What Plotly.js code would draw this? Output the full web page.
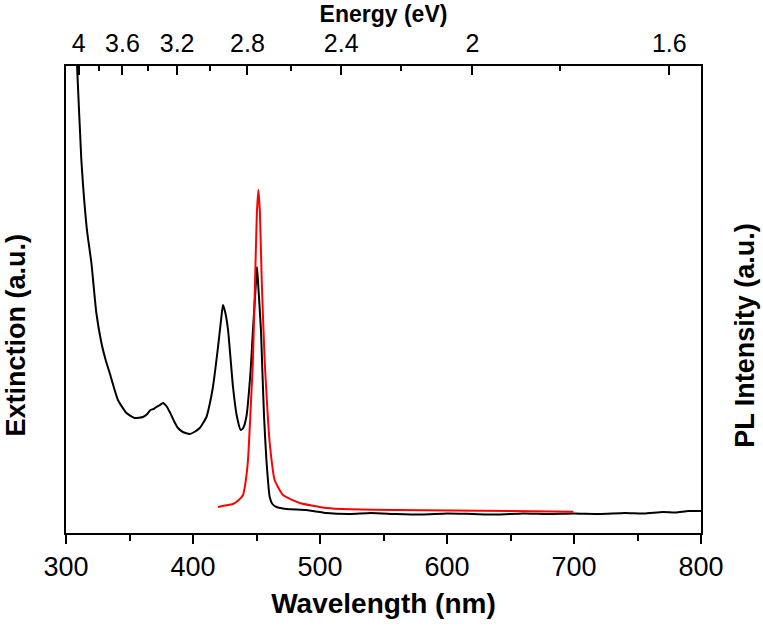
<!DOCTYPE html>
<html><head><meta charset="utf-8">
<script src="https://cdn.plot.ly/plotly-3.0.1.min.js"></script>
<style>body{margin:0;background:#fff}</style></head>
<body><div id="chart" style="width:763px;height:626px"></div>
<script>
// Extinction spectrum (black)
const extWavelength = [306.9, 308.7, 312, 316.5, 320.0, 323.9, 327.9, 331, 334.4, 340.9, 347.6, 354.1, 360.6, 364, 366.5, 369, 371.2, 374, 376.4, 379, 381.7, 385, 388.2, 392, 397.4, 401, 405.3, 410.6, 413, 415.7, 419.7, 422, 423.6, 425.5, 427.6, 431.5, 434.5, 437.6, 439.5, 442.0, 445.4, 447.2, 449.3, 450.4, 451.5, 453.5, 454.6, 456, 457.8, 460.4, 462.5, 465.7, 473.5, 489.3, 505.0, 523.4, 540, 560, 580, 600, 620, 640, 660, 680, 700, 720, 740, 755, 770, 780, 790, 800];
const extinction = [500, 467, 375, 303, 270, 220, 190, 174, 160, 133, 120, 115, 116, 119, 123, 124, 126, 128, 130, 127, 121, 112, 105, 101, 99, 101, 105, 116, 128, 146, 186, 212, 228, 220, 203, 146, 117, 103, 105, 116, 163, 203, 245, 266, 245, 203, 163, 115, 73, 36, 29, 26, 24, 23, 20, 19, 20, 19, 18.5, 19.5, 19, 18.5, 19.5, 19, 19.5, 19, 20, 19.5, 21, 20.5, 22, 22];
// Photoluminescence spectrum (red)
const plWavelength = [419.7, 425, 431.5, 436, 439.4, 441.5, 443.3, 446.0, 447.2, 448.9, 450.3, 451.5, 452.7, 454.1, 456.4, 458.5, 460.4, 464.3, 470.9, 484, 505, 523.4, 560, 602, 650, 699.4];
const plIntensity = [26, 27.5, 29, 33, 38, 52, 73, 140, 173, 253, 320, 343, 320, 253, 173, 125, 90, 53, 38, 30, 25, 23.7, 23, 22.5, 22, 21.3];
// Top axis: photon energy (eV)
const energyTicks = [4, 3.6, 3.2, 2.8, 2.4, 2, 1.6];
const energyTickLabels = ['4', '3.6', '3.2', '2.8', '2.4', '2', '1.6'];
const energyMinorTicks = [3.8, 3.4, 3.0, 2.6, 2.2, 1.8];
const wavelengthTicks = [300, 400, 500, 600, 700, 800];

const toNm = e => 1240 / e;
const FONT = 'Liberation Sans, Arial, sans-serif';

const traces = [
  {x: extWavelength, y: extinction, type: 'scatter', mode: 'lines', name: 'Extinction',
   line: {color: '#000000', width: 2, shape: 'spline', smoothing: 0.5}, xaxis: 'x', yaxis: 'y', showlegend: false},
  {x: plWavelength, y: plIntensity, type: 'scatter', mode: 'lines', name: 'PL',
   line: {color: '#ff0000', width: 2, shape: 'spline', smoothing: 0.5}, xaxis: 'x2', yaxis: 'y2', showlegend: false}
];

const layout = {
  width: 763, height: 626,
  margin: {l: 66, r: 62, t: 66, b: 93},
  paper_bgcolor: '#ffffff', plot_bgcolor: '#ffffff',
  font: {family: FONT, color: '#000000', size: 24},
  xaxis: {
    range: [300, 800], showgrid: false, zeroline: false,
    showline: true, linewidth: 2, linecolor: '#000',
    tickmode: 'array', tickvals: wavelengthTicks, ticktext: wavelengthTicks.map(String),
    ticks: 'outside', ticklen: 9, tickwidth: 2, tickcolor: '#000',
    minor: {tickmode: 'linear', tick0: 350, dtick: 100, ticks: 'outside', ticklen: 6, tickwidth: 2, tickcolor: '#000'},
    tickfont: {size: 27, family: FONT},
    title: {text: 'Wavelength (nm)', font: {size: 28, family: FONT, weight: 'bold'}, standoff: 12}
  },
  xaxis2: {
    overlaying: 'x', side: 'top', anchor: 'y',
    range: [300, 800], showgrid: false, zeroline: false,
    showline: true, linewidth: 2, linecolor: '#000',
    tickmode: 'array', tickvals: energyTicks.map(toNm), ticktext: energyTickLabels,
    ticks: 'inside', ticklen: 9, tickwidth: 2, tickcolor: '#000',
    minor: {tickmode: 'array', tickvals: energyMinorTicks.map(toNm), ticks: 'inside', ticklen: 5, tickwidth: 2, tickcolor: '#000'},
    tickfont: {size: 25, family: FONT},
    ticklabelstandoff: 2,
    title: {text: 'Energy (eV)', font: {size: 23, family: FONT, weight: 'bold'}, standoff: 0}
  },
  yaxis: {
    range: [0, 467], showgrid: false, zeroline: false,
    showline: true, mirror: true, linewidth: 2, linecolor: '#000',
    ticks: '', showticklabels: false
  },
  yaxis2: {
    overlaying: 'y', side: 'right', anchor: 'x',
    range: [0, 467], showgrid: false, zeroline: false,
    showline: false, ticks: '', showticklabels: false
  },
  annotations: [
    {text: 'Extinction (a.u.)', xref: 'paper', yref: 'paper', x: -0.078, y: 0.424,
     textangle: -90, showarrow: false, xanchor: 'center', yanchor: 'middle',
     font: {size: 27, family: FONT, weight: 'bold', color: '#000'}},
    {text: 'PL Intensity (a.u.)', xref: 'paper', yref: 'paper', x: 1.069, y: 0.424,
     textangle: -90, showarrow: false, xanchor: 'center', yanchor: 'middle',
     font: {size: 27, family: FONT, weight: 'bold', color: '#000'}}
  ]
};

Plotly.newPlot('chart', traces, layout, {staticPlot: true, displayModeBar: false});
</script>
</body></html>
